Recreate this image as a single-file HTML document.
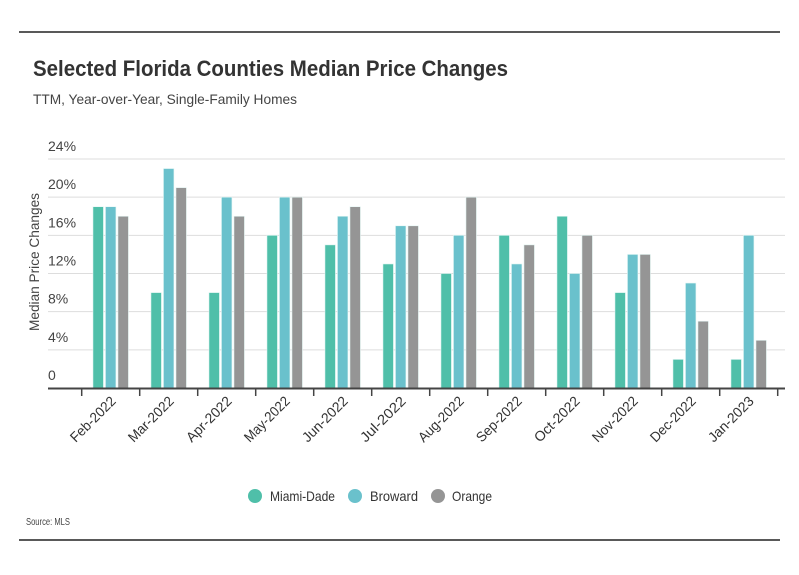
<!DOCTYPE html>
<html><head><meta charset="utf-8"><style>
body{margin:0;background:#fff;}
svg{display:block;font-family:"Liberation Sans",sans-serif;}
</style></head><body>
<svg id="c" width="799" height="575" viewBox="0 0 799 575">
<line x1="19" y1="32" x2="780" y2="32" stroke="#222" stroke-width="1.5"/>
<text x="33" y="76" font-size="22" font-weight="bold" fill="#333" textLength="475" lengthAdjust="spacingAndGlyphs">Selected Florida Counties Median Price Changes</text>
<text x="33" y="104" font-size="14" fill="#444" textLength="264" lengthAdjust="spacingAndGlyphs">TTM, Year-over-Year, Single-Family Homes</text>
<text transform="translate(39,262) rotate(-90)" text-anchor="middle" font-size="14" fill="#444" textLength="138" lengthAdjust="spacingAndGlyphs">Median Price Changes</text>
<g id="grid"></g><g id="bars"></g><g id="xax"></g>
<g>
<g><circle cx="255" cy="496" r="7" fill="#4fbfa9"/><text x="270" y="501" font-size="14" fill="#333" textLength="65" lengthAdjust="spacingAndGlyphs">Miami-Dade</text></g>
<g><circle cx="355" cy="496" r="7" fill="#6ac1cc"/><text x="370" y="501" font-size="14" fill="#333" textLength="48" lengthAdjust="spacingAndGlyphs">Broward</text></g>
<g><circle cx="438" cy="496" r="7" fill="#959595"/><text x="452" y="501" font-size="14" fill="#333" textLength="40" lengthAdjust="spacingAndGlyphs">Orange</text></g>
</g>
<text x="26" y="525" font-size="10" fill="#444" textLength="44" lengthAdjust="spacingAndGlyphs">Source: MLS</text>
<line x1="19" y1="540" x2="780" y2="540" stroke="#222" stroke-width="1.5"/>
</svg>
<script>
const categories=["Feb-2022","Mar-2022","Apr-2022","May-2022","Jun-2022","Jul-2022","Aug-2022","Sep-2022","Oct-2022","Nov-2022","Dec-2022","Jan-2023"];
const miamiDade=[19,10,10,16,15,13,12,16,18,10,3,3];
const broward=[19,23,20,20,18,17,16,13,12,14,11,16];
const orange=[18,21,18,20,19,17,20,15,16,14,7,5];
const yTicks=[0,4,8,12,16,20,24];
const yTickLabels=["0","4%","8%","12%","16%","20%","24%"];
const NS="http://www.w3.org/2000/svg";
const y0=388,pxPer=(388-159)/24,x0=81.7,band=58;
const y=v=>y0-v*pxPer;
const xc=i=>x0+band*i+band/2;
function mk(t,a,p){const e=document.createElementNS(NS,t);for(const k in a)e.setAttribute(k,a[k]);p.appendChild(e);return e;}
const grid=document.getElementById('grid');
yTicks.forEach((t,i)=>{
  if(t>0){const l=mk('line',{x1:48,x2:785,y1:y(t),y2:y(t),stroke:'#ddd','stroke-width':1},grid);
  
  }
  const tx=mk('text',{x:48,y:y(t)-8,'font-size':14,fill:'#444'},grid);
  tx.textContent=yTickLabels[i];
  
  
});
const bars=document.getElementById('bars');
const series=[[miamiDade,'#4fbfa9','miami-dade'],[broward,'#6ac1cc','broward'],[orange,'#959595','orange']];
const bw=10.5,gap=2;
categories.forEach((c,i)=>{
  series.forEach((s,j)=>{
    const v=s[0][i];
    const x=xc(i)-(bw*1.5+gap)+j*(bw+gap);
    const r=mk('rect',{x:x,y:y(v),width:bw,height:y0-y(v),fill:s[1],stroke:'#e6f7f5','stroke-width':0.6},bars);
    
    
  });
});
const xax=document.getElementById('xax');
const al=mk('line',{x1:48,x2:785,y1:y0+0.5,y2:y0+0.5,stroke:'#444','stroke-width':2},xax);


for(let k=0;k<=categories.length;k++){
  const tk=mk('line',{x1:x0+band*k,x2:x0+band*k,y1:y0,y2:y0+8,stroke:'#444','stroke-width':1.5},xax);
  
  
}
categories.forEach((c,i)=>{
  const t=mk('text',{transform:`translate(${xc(i)+6},${y0+14}) rotate(-45)`,'text-anchor':'end','font-size':14,fill:'#333',textLength:58,lengthAdjust:'spacingAndGlyphs'},xax);
  t.textContent=c;
  
  
});
</script>
</body></html>
